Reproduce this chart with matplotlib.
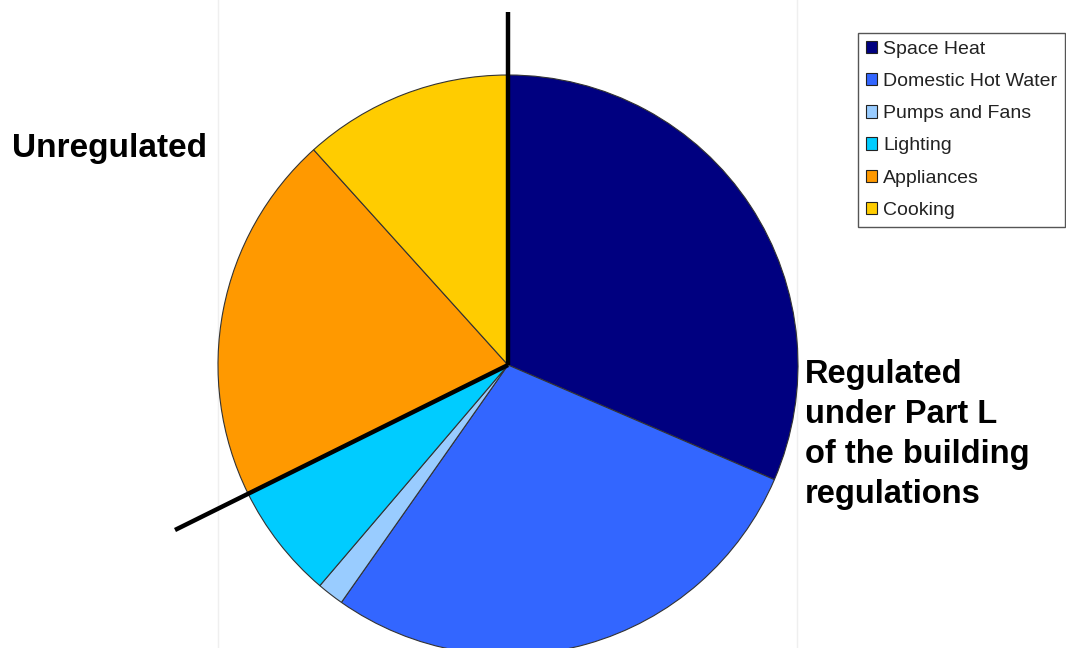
import matplotlib.pyplot as plt
from matplotlib.patches import Patch

# energy end uses in a dwelling (% of total)
labels = ['Space Heat', 'Domestic Hot Water', 'Pumps and Fans',
          'Lighting', 'Appliances', 'Cooking']
shares = [31.5, 28.3, 1.5, 6.5, 20.6, 11.7]
colors = ['#000080', '#3366FF', '#99CCFF', '#00CCFF', '#FF9900', '#FFCC00']

W, H = 1066, 648
fig = plt.figure(figsize=(W / 100, H / 100), dpi=100)
ax = fig.add_axes([0, 0, 1, 1])

cx, cy, r = 508, H - 365, 290

# faint edges of the plot box
for x in (218, 797):
    ax.plot([x, x], [0, H], color='#efefef', lw=1, zorder=0)

wedges, _ = ax.pie(shares, colors=colors, startangle=90, counterclock=False,
                   center=(cx, cy), radius=r, frame=True,
                   wedgeprops=dict(edgecolor='#333333', linewidth=0.8))
ax.set_xlim(0, W)
ax.set_ylim(0, H)
ax.set_aspect('equal')
ax.axis('off')

# dividing lines: regulated vs unregulated
ax.plot([cx, cx], [cy, H - 12], color='black', lw=3.2, solid_capstyle='butt', zorder=5)
ax.plot([cx, 175], [cy, H - 530], color='black', lw=3.2, solid_capstyle='butt', zorder=5)

ax.text(12, H - 149, 'Unregulated', fontsize=24, fontweight='bold',
        family='Liberation Sans', va='center', ha='left')
ax.text(805, H - 359, 'Regulated\nunder Part L\nof the building\nregulations',
        fontsize=23.5, fontweight='bold', family='Liberation Sans',
        va='top', ha='left', linespacing=1.37)

handles = [Patch(facecolor=c, edgecolor='#222222', linewidth=0.8) for c in colors]
leg = fig.legend(handles, labels, loc='upper right',
                 bbox_to_anchor=(1065 / W, 1 - 33 / H),
                 prop=dict(family='Liberation Sans', size=14),
                 handlelength=0.6, handleheight=0.6, handletextpad=0.3,
                 labelspacing=0.78, borderpad=0.4, borderaxespad=0,
                 fancybox=False, framealpha=1)
leg.get_frame().set_edgecolor('#555555')
leg.get_frame().set_linewidth(1.0)
for t in leg.get_texts():
    t.set_color('#222222')

fig.savefig('out.png', dpi=100)
